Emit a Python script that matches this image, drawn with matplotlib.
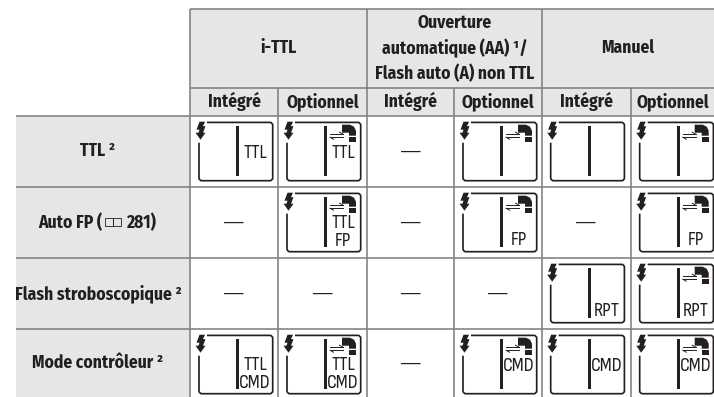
# Flash modes table
import matplotlib
matplotlib.use("Agg")
import matplotlib.pyplot as plt
from matplotlib import font_manager as fm
from matplotlib.patches import Rectangle, Polygon, PathPatch
from matplotlib.path import Path

group_labels = ["i-TTL", "Ouverture\nautomatique (AA) ¹/\nFlash auto (A) non TTL", "Manuel"]
sub_labels = ["Intégré", "Optionnel"] * 3
row_labels = ["TTL ²", None, "Flash stroboscopique ²", "Mode contrôleur ²"]

# each cell: None = dash, otherwise text lines on the icon
row_ttl = ["TTL", "TTL", None, "", "", ""]
row_fp = [None, "TTL\nFP", None, "\nFP", None, "\nFP"]
row_rpt = [None, None, None, None, "\nRPT", "\nRPT"]
row_cmd = ["TTL\nCMD", "TTL\nCMD", None, "CMD", "CMD", "CMD"]
cells = [row_ttl, row_fp, row_rpt, row_cmd]

col_x = [190, 278, 367, 454, 541.7, 630.7, 714]
row_y = [115.7, 186.7, 257.7, 328.7, 397]
top_y, sub_y = 8.7, 88
left_x = 16

GREY = "#808080"
FILL = "#e6e6e6"
INK = "#231f20"
px = 0.72

# narrow fonts if they are there, plain Liberation otherwise
installed = {f.name for f in fm.fontManager.ttflist}
HEAD_FONT, HEAD_SIZE = ("Fira Sans Condensed", 12.6) if "Fira Sans Condensed" in installed else ("Liberation Sans", 9.5)
ICON_FONT, ICON_SIZE = ("Sofia Sans Condensed", 14.5) if "Sofia Sans Condensed" in installed else ("Liberation Sans", 10)

fig = plt.figure(figsize=(7.14, 3.97), dpi=100)
ax = fig.add_axes([0, 0, 1, 1])
ax.set_xlim(0, 714)
ax.set_ylim(397, 0)
ax.axis("off")

# backgrounds
ax.add_patch(Rectangle((col_x[0], top_y), 714 - col_x[0], row_y[0] - top_y, fc=FILL, ec="none"))
ax.add_patch(Rectangle((left_x, row_y[0]), col_x[0] - left_x, 397 - row_y[0], fc=FILL, ec="none"))

# grid
lw = 1.6 * px
ax.plot([col_x[0], 714], [top_y, top_y], color=GREY, lw=lw, solid_capstyle="butt")
ax.plot([col_x[0], 714], [sub_y, sub_y], color=GREY, lw=lw, solid_capstyle="butt")
for y in row_y[:-1]:
    ax.plot([left_x, 714], [y, y], color=GREY, lw=lw, solid_capstyle="butt")
for i, x in enumerate(col_x[:-1]):
    y0 = top_y if i % 2 == 0 else sub_y
    ax.plot([x, x], [y0, 397], color=GREY, lw=lw, solid_capstyle="butt")


def label(x, y, s, **kw):
    ax.text(x, y, s, fontsize=HEAD_SIZE, fontweight="bold", family=HEAD_FONT, color=INK,
            ha=kw.pop("ha", "center"), va="center", **kw)


# headers
for i, s in enumerate(group_labels):
    label((col_x[i * 2] + col_x[i * 2 + 2]) / 2, (top_y + sub_y) / 2, s, linespacing=1.45)
for i, s in enumerate(sub_labels):
    label((col_x[i] + col_x[i + 1]) / 2, (sub_y + row_y[0]) / 2, s)
for i, s in enumerate(row_labels):
    if s:
        label((left_x + col_x[0]) / 2 - 5, (row_y[i] + row_y[i + 1]) / 2, s)

# Auto FP label with the little book sign
yc = (row_y[1] + row_y[2]) / 2
label(102, yc, "Auto FP (", ha="right")
label(126, yc, "281)", ha="left")
ax.add_patch(Rectangle((104.5, yc - 4), 8, 7.5, fc="none", ec=INK, lw=0.6))
ax.add_patch(Rectangle((112.5, yc - 4), 8, 7.5, fc="none", ec=INK, lw=0.6))


def flash_icon(x, y, optional, text):
    # frame with the gap for the bolt
    p = Path([(x + 17, y + 6.7), (x + 79.7, y + 6.7), (x + 82.7, y + 6.7), (x + 82.7, y + 9.7),
              (x + 82.7, y + 62), (x + 82.7, y + 65), (x + 79.7, y + 65),
              (x + 12, y + 65), (x + 9, y + 65), (x + 9, y + 62), (x + 9, y + 27)],
             [Path.MOVETO, Path.LINETO, Path.CURVE3, Path.CURVE3, Path.LINETO, Path.CURVE3, Path.CURVE3,
              Path.LINETO, Path.CURVE3, Path.CURVE3, Path.LINETO])
    ax.add_patch(PathPatch(p, fc="none", ec=INK, lw=1.7 * px, capstyle="butt"))
    # bolt and arrow head
    ax.add_patch(Polygon([(x + 9.5, y + 6), (x + 15, y + 6), (x + 13, y + 10.5), (x + 15.5, y + 10.5),
                          (x + 13, y + 17), (x + 15.5, y + 17), (x + 10.5, y + 24),
                          (x + 5.5, y + 17), (x + 8.5, y + 17), (x + 9.5, y + 14), (x + 6.5, y + 14)],
                         fc=INK, ec="none"))
    # center bar
    ax.add_patch(Rectangle((x + 46, y + 10), 2.8, 50.7, fc=INK, ec="none"))
    if optional:
        # double arrow
        ax.plot([x + 52, x + 65], [y + 18.5, y + 18.5], color=INK, lw=0.7)
        ax.plot([x + 61.5, x + 65], [y + 16.5, y + 18.5], color=INK, lw=0.7)
        ax.plot([x + 52, x + 65], [y + 21.5, y + 21.5], color=INK, lw=0.7)
        ax.plot([x + 52, x + 55.5], [y + 21.5, y + 23.5], color=INK, lw=0.7)
        # remote flash head
        ax.add_patch(Polygon([(x + 64, y + 9), (x + 72, y + 9), (x + 76, y + 11), (x + 78, y + 15),
                              (x + 78, y + 20), (x + 71, y + 20), (x + 71, y + 17), (x + 64, y + 17)],
                             fc=INK, ec="none"))
        ax.add_patch(Rectangle((x + 71, y + 21), 7, 5.5, fc=INK, ec="none"))
    if text:
        first, _, second = text.partition("\n")
        if first and second:
            yy = [(first, 36), (second, 54)]
        elif second:
            yy = [(second, 53.5)]
        else:
            yy = [(first, 37)]
        for s, dy in yy:
            ax.text(x + 65, y + dy, s, fontsize=ICON_SIZE, family=ICON_FONT, color=INK, ha="center", va="center")


# body
for r, row in enumerate(cells):
    for c, val in enumerate(row):
        x, y = col_x[c], row_y[r]
        if val is None:
            ax.text((x + col_x[c + 1]) / 2, (y + row_y[r + 1]) / 2, "—", fontsize=14,
                    family="Liberation Sans", color=INK, ha="center", va="center")
        else:
            flash_icon(x, y, c % 2 == 1, val)

fig.savefig("out.png", dpi=100)
